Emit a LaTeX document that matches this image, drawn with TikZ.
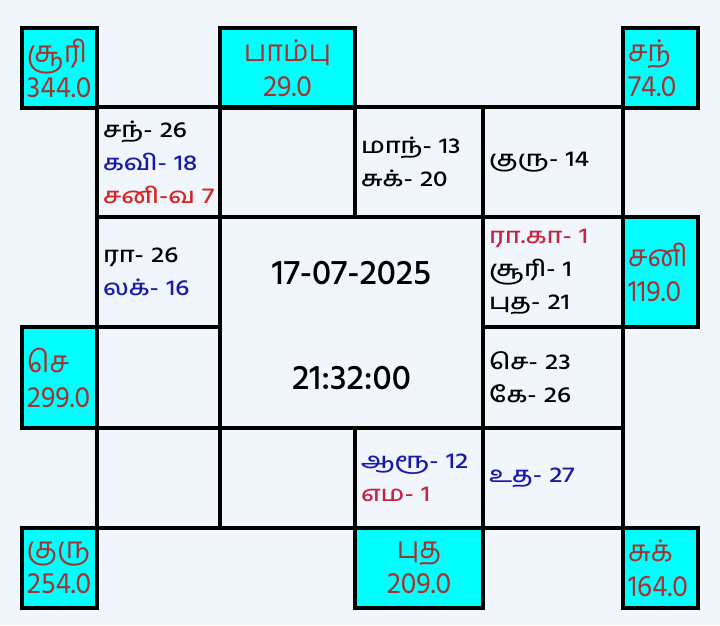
\documentclass[tikz,border=0pt]{standalone}
\usepackage{fontspec}
\usepackage{xcolor}
\newfontfamily\tamil[Script=Tamil]{Hind Madurai Medium}
\newfontfamily\tamilwide[Script=Tamil,FakeStretch=1.2]{Hind Madurai Medium}
\newfontfamily\tamilnarrow[Script=Tamil,FakeStretch=0.95]{Hind Madurai}
\definecolor{chartbg}{RGB}{240,246,252}
\definecolor{planetcyan}{RGB}{0,255,255}
\definecolor{degbrown}{RGB}{165,50,45}
\definecolor{grahablue}{RGB}{25,25,170}
\definecolor{grahared}{RGB}{215,35,35}
\definecolor{grahacrimson}{RGB}{200,35,65}
\usetikzlibrary{positioning}
\tikzset{
  house/.style 2 args={draw=black, line width=3.8pt, anchor=north west, outer sep=0pt,
    minimum width=#1pt, minimum height=#2pt, text width=#1pt-12pt,
    inner xsep=6pt, inner ysep=0pt, align=left,
    font=\tamilwide\fontsize{22}{33}\selectfont},
  planet/.style 2 args={house={#1}{#2}, fill=planetcyan, text=degbrown,
    inner xsep=5pt, text width=#1pt-10pt,
    font=\tamilnarrow\fontsize{30}{35}\selectfont},
  stamp/.style={font=\tamil\fontsize{35}{35}\selectfont}
}

\begin{document}
\begin{tikzpicture}[x=1pt, y=-1pt]
\useasboundingbox[fill=chartbg] (0,0) rectangle (720,625);

% cyan boxes outside the chart
\node[planet={75}{80}] (suri) at (22,28) {சூரி\\344.0};
\node[planet={135}{80}, align=center] (pambu) at (220,28) {பாம்பு\\29.0};
\node[planet={75}{80}] (chandra) at (623,28) {சந்\\74.0};
\node[planet={75}{110}] (sani) at (623,217) {சனி\\119.0};
\node[planet={75}{101}] (sevvai) at (22,327) {செ\\299.0};
\node[planet={75}{80}] (guru) at (22,528) {குரு\\254.0};
\node[planet={128}{80}, align=center] (budha) at (355,528) {புத\\209.0};
\node[planet={75}{80}] (sukra) at (623,528) {சுக்\\164.0};

% top row
\node[house={123}{110}] (h12) at (97,107) {சந்- 26\\\textcolor{grahablue}{கவி- 18}\\\textcolor{grahared}{\mbox{சனி-வ 7}}};
\node[house={135}{110}] (h1) at (220,107) {};
\node[house={128}{110}] (h2) at (355,107) {மாந்- 13\\சுக்- 20};
\node[house={140}{110}] (h3) at (483,107) {குரு- 14};

% right column
\node[house={140}{110}] (h4) at (483,217) {\textcolor{grahacrimson}{ரா.கா- 1}\\சூரி- 1\\புத- 21};
\node[house={140}{101}] (h5) at (483,327) {செ- 23\\கே- 26};

% bottom row
\node[house={140}{100}] (h6) at (483,428) {\textcolor{grahablue}{உத- 27}};
\node[house={128}{100}] (h7) at (355,428) {\textcolor{grahablue}{ஆரூ- 12}\\\textcolor{grahacrimson}{எம- 1}};
\node[house={135}{100}] (h8) at (220,428) {};
\node[house={123}{100}] (h9) at (97,428) {};

% left column
\node[house={123}{101}] (h10) at (97,327) {};
\node[house={123}{110}] (h11) at (97,217) {ரா- 26\\\textcolor{grahablue}{லக்- 16}};

% centre
\node[house={263}{211}] (mid) at (220,217) {};
\node[stamp] (date) at (351.5,273) {17-07-2025};
\node[stamp] (time) at (351.5,378) {21:32:00};
\end{tikzpicture}
\end{document}
